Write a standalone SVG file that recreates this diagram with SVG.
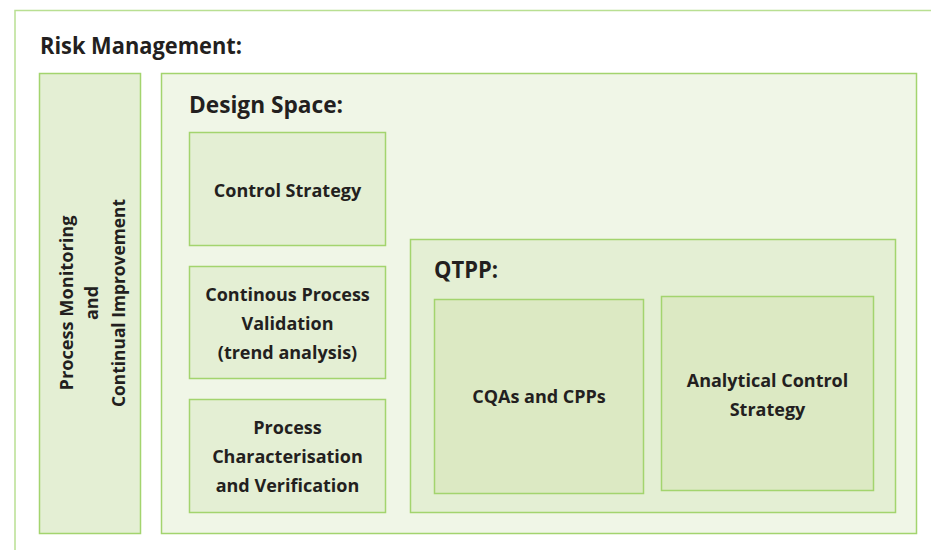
<svg xmlns="http://www.w3.org/2000/svg" width="931" height="550" viewBox="0 0 931 550">
<style>
.b{stroke:#a3d46e;stroke-width:1.5}
.t{font-family:"Open Sans","Liberation Sans",sans-serif;font-weight:bold;fill:#231f20;font-size:18px;text-anchor:middle}
.h{font-family:"Open Sans","Liberation Sans",sans-serif;font-weight:bold;fill:#231f20;font-size:23px}
</style>
<rect width="931" height="550" fill="#fff"/>
<g id="risk-management">
<path d="M15,550 V10.5 H931" fill="none" stroke="#b9df92" stroke-width="1.5"/>
<text class="h" x="40" y="54" textLength="202" lengthAdjust="spacingAndGlyphs">Risk Management:</text>
</g>
<g id="process-monitoring">
<rect class="b" x="39.5" y="73.5" width="101" height="460" fill="#e4efd4"/>
<g transform="translate(90,303) rotate(-90)">
<text class="t" x="0" y="-17" textLength="175" lengthAdjust="spacingAndGlyphs">Process Monitoring</text>
<text class="t" x="0" y="8">and</text>
<text class="t" x="0" y="35" textLength="208" lengthAdjust="spacingAndGlyphs">Continual Improvement</text>
</g>
</g>
<g id="design-space">
<rect class="b" x="161.5" y="73.5" width="755" height="460" fill="#f0f6e7"/>
<text class="h" x="189" y="113" textLength="154" lengthAdjust="spacingAndGlyphs">Design Space:</text>
</g>
<g id="control-strategy">
<rect class="b" x="189.5" y="132.5" width="196" height="113" fill="#e4efd4"/>
<text class="t" x="287.5" y="197">Control Strategy</text>
</g>
<g id="continuous-process-validation">
<rect class="b" x="189.5" y="266.5" width="196" height="112" fill="#e4efd4"/>
<text class="t" x="287.5" y="301">Continous Process</text>
<text class="t" x="287.5" y="330">Validation</text>
<text class="t" x="287.5" y="359">(trend analysis)</text>
</g>
<g id="process-characterisation">
<rect class="b" x="189.5" y="399.5" width="196" height="113" fill="#e4efd4"/>
<text class="t" x="287.5" y="434">Process</text>
<text class="t" x="287.5" y="463">Characterisation</text>
<text class="t" x="287.5" y="492">and Verification</text>
</g>
<g id="qtpp">
<rect class="b" x="410.5" y="239.5" width="485" height="273" fill="#e4efd4"/>
<text class="h" x="434" y="278" textLength="64" lengthAdjust="spacingAndGlyphs">QTPP:</text>
</g>
<g id="cqas-cpps">
<rect class="b" x="434.5" y="299.5" width="209" height="194" fill="#dce9c3"/>
<text class="t" x="539" y="403">CQAs and CPPs</text>
</g>
<g id="analytical-control-strategy">
<rect class="b" x="661.5" y="296.5" width="212" height="194" fill="#dce9c3"/>
<text class="t" x="767.5" y="387">Analytical Control</text>
<text class="t" x="767.5" y="416">Strategy</text>
</g>
<g id="connectors"></g>
</svg>
